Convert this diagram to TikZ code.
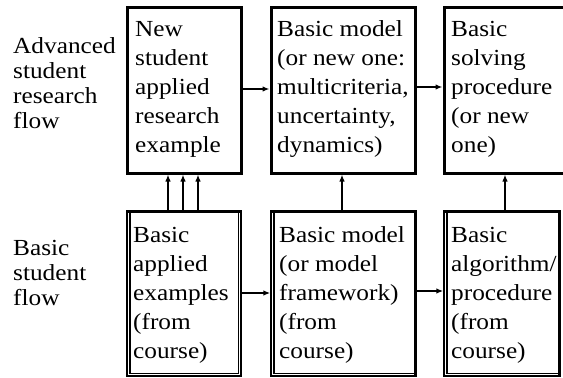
\documentclass[tikz,border=0pt]{standalone}
\usepackage{fontspec}
\setmainfont{Liberation Serif}[FakeStretch=1.1]
\usetikzlibrary{arrows.meta,calc}
\newcommand{\boxtext}[1]{\parbox[t]{140pt}{\raggedright #1}}
\begin{document}
\begin{tikzpicture}[x=1pt,y=-1pt,
  thickbox/.style={draw,line width=3pt,inner sep=0pt},
  thinbox/.style={draw,line width=1.4pt,inner sep=0pt},
  thinl/.style={line width=1.4pt},
  thickl/.style={line width=3pt},
  arr/.style={line width=1.5pt,-{Latex[length=7pt,width=5.5pt]}},
  txt/.style={anchor=base west,inner sep=0pt,font=\fontsize{23}{29}\selectfont},
  side/.style={anchor=base west,inner sep=0pt,font=\fontsize{23}{25}\selectfont}]
\useasboundingbox (0,0) rectangle (563,378);
\fill[white] (0,0) rectangle (563,378);
% top row boxes
\node[thickbox,minimum width=114pt,minimum height=166pt] (t1) at (184,90) {};
\node[thickbox,minimum width=144pt,minimum height=166pt] (t2) at (343,90) {};
\node[thickbox,minimum width=126pt,minimum height=166pt] (t3) at (507,90) {};
% bottom row boxes
\node[thinbox,minimum width=114pt,minimum height=164pt] (b1) at (184,294) {};
\node[thinbox,minimum width=144pt,minimum height=164pt] (b2) at (343,294) {};
\node[thinbox,minimum width=115pt,minimum height=164pt] (b3) at (501.5,294) {};
% double lines of the bottom boxes
\draw[thinl] ($(b1.north west)+(3.5,0)$) -- ($(b1.south west)+(3.5,-3.5)$)
  -- ($(b1.south east)+(-3.5,-3.5)$) -- ($(b1.north east)+(-3.5,0)$);
\draw[thickl] (b1.north west) -- (b1.north east);
\draw[thinl] ($(b2.north west)+(3.5,0)$) -- ($(b2.south west)+(3.5,-3.5)$)
  -- ($(b2.south east)+(0,-3.5)$);
\draw[thickl] (b2.north west) -- (b2.north east) -- (b2.south east);
\draw[thinl] ($(b3.north west)+(3.5,0)$) -- ($(b3.south west)+(3.5,-3.5)$)
  -- ($(b3.south east)+(0,-3.5)$);
\draw[thickl] (b3.north west) -- (b3.north east) -- (b3.south east);
% texts
\node[side] (adv) at (13,53) {\boxtext{Advanced\\student\\research\\flow}};
\node[side] (bas) at (13,255) {\boxtext{Basic\\student\\flow}};
\node[txt] (t1t) at (135,36) {\boxtext{New\\student\\applied\\research\\example}};
\node[txt] (t2t) at (277,36) {\boxtext{Basic model\\(or new one:\\multicriteria,\\uncertainty,\\dynamics)}};
\node[txt] (t3t) at (451,36) {\boxtext{Basic\\solving\\procedure\\(or new\\one)}};
\node[txt] (b1t) at (133,242) {\boxtext{Basic\\applied\\examples\\(from\\course)}};
\node[txt] (b2t) at (279,242) {\boxtext{Basic model\\(or model\\framework)\\(from\\course)}};
\node[txt] (b3t) at (451,242) {\boxtext{Basic\\algorithm/\\procedure\\(from\\course)}};
% connectors
\draw[arr] ([yshift=1]t1.east) -- ([yshift=1]t2.west);
\draw[arr] ([yshift=3]t2.east) -- ([yshift=3]t2.east -| t3.west);
\draw[arr] ([yshift=1]b1.east) -- ([yshift=1]b2.west);
\draw[arr] ([yshift=3]b2.east) -- ([yshift=3]b2.east -| b3.west);
\draw[arr] ([xshift=-16]b1.north) -- ([xshift=-16]t1.south);
\draw[arr] ([xshift=-1]b1.north) -- ([xshift=-1]t1.south);
\draw[arr] ([xshift=14]b1.north) -- ([xshift=14]t1.south);
\draw[arr] ([xshift=-1]b2.north) -- ([xshift=-1]t2.south);
\draw[arr] ([xshift=3.5]b3.north) -- ([xshift=3.5]b3.north |- t3.south);
\end{tikzpicture}
\end{document}
